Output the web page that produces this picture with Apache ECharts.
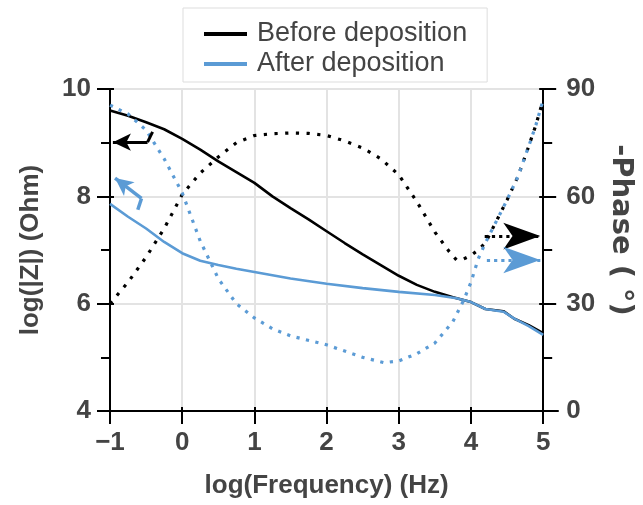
<!DOCTYPE html>
<html>
<head>
<meta charset="utf-8">
<script src="https://cdn.jsdelivr.net/npm/echarts@6/dist/echarts.min.js"></script>
<style>html,body{margin:0;padding:0;background:#fff}#c{width:643px;height:505px}</style>
</head>
<body>
<div id="c"></div>
<script>
// ---- data (log frequency in Hz, log|Z| in Ohm, -phase in degrees) ----
const xTicks = [-1, 0, 1, 2, 3, 4, 5];
const zTicks = [4, 6, 8, 10];
const phaseTicks = [0, 30, 60, 90];

const zBeforeX = [-1, -0.75, -0.5, -0.25, 0, 0.25, 0.5, 0.75, 1, 1.25, 1.5, 1.75, 2, 2.25, 2.5, 2.75, 3, 3.25, 3.5, 3.75, 4, 4.2, 4.45, 4.6, 4.8, 5];
const zBeforeY = [9.6, 9.5, 9.38, 9.25, 9.07, 8.87, 8.65, 8.45, 8.25, 8.0, 7.78, 7.57, 7.35, 7.13, 6.92, 6.72, 6.52, 6.35, 6.22, 6.12, 6.03, 5.9, 5.86, 5.72, 5.6, 5.45];

const zAfterX = [-1, -0.75, -0.5, -0.25, 0, 0.25, 0.5, 0.75, 1, 1.5, 2, 2.5, 3, 3.5, 3.8, 4, 4.2, 4.45, 4.6, 4.8, 5];
const zAfterY = [7.86, 7.62, 7.4, 7.15, 6.94, 6.8, 6.72, 6.65, 6.59, 6.47, 6.37, 6.29, 6.22, 6.16, 6.1, 6.03, 5.9, 5.85, 5.72, 5.58, 5.42];

const phBeforeX = [-1, -0.75, -0.5, -0.25, 0, 0.25, 0.5, 0.75, 1, 1.25, 1.5, 1.75, 2, 2.25, 2.5, 2.75, 3, 3.25, 3.5, 3.7, 3.8, 3.9, 4, 4.1, 4.2, 4.35, 4.5, 4.65, 4.8, 4.9, 5];
const phBeforeY = [30, 36, 43, 51, 60.5, 66.5, 71, 75, 77, 77.5, 77.7, 77.6, 77, 75.5, 73.5, 70.5, 66, 58.5, 50, 44.5, 42.2, 42.5, 43.5, 45, 47, 53, 59, 65.5, 74, 80, 87];

const phAfterX = [-1, -0.75, -0.5, -0.25, 0, 0.25, 0.5, 0.75, 1, 1.25, 1.5, 2, 2.5, 2.8, 3, 3.25, 3.5, 3.75, 3.9, 4, 4.1, 4.2, 4.35, 4.5, 4.65, 4.8, 4.9, 5];
const phAfterY = [85.5, 83, 78.5, 70.5, 61, 47.5, 37, 30, 26, 23, 21, 18.5, 15, 13.5, 14, 16, 19, 25, 31, 36, 42.5, 47, 53, 59, 65.5, 74, 80, 87];

const seriesNames = ['Before deposition', 'After deposition'];

// ---- styles ----
const BLACK = '#000000';
const BLUE = '#5B9BD5';
const TXT = '#444444';
const FONT = '"Liberation Sans", Arial, Helvetica, sans-serif';

const pair = (xs, ys) => xs.map((x, i) => [x, ys[i]]);

function seg(a, b, arrow, size) {
  return [
    { coord: a, symbol: 'none' },
    { coord: b, symbol: arrow ? 'arrow' : 'none', symbolSize: size || 10 }
  ];
}

const chart = echarts.init(document.getElementById('c'), null, { renderer: 'canvas' });

const labelStyle = { color: TXT, fontFamily: FONT, fontWeight: 'bold', fontSize: 26 };
const nameStyle = { color: TXT, fontFamily: FONT, fontWeight: 'bold', fontSize: 26 };

chart.setOption({
  animation: false,
  backgroundColor: '#fff',
  legend: {
    data: seriesNames,
    orient: 'vertical',
    left: 183, top: 8,
    padding: [12, 20, 4, 21],
    itemGap: 2,
    itemWidth: 43, itemHeight: 4,
    icon: 'rect',
    borderColor: '#dddddd', borderWidth: 1,
    textStyle: { color: TXT, fontFamily: FONT, fontSize: 27, lineHeight: 28, padding: [0, 0, 0, 5] }
  },
  grid: [
    { left: 110, right: 97, top: 89, bottom: 94 },
    { left: 98, right: 85, top: 89, bottom: 94 }
  ],
  xAxis: [
    {
      type: 'value', gridIndex: 0, min: xTicks[0], max: xTicks[xTicks.length - 1], interval: 1,
      name: 'log(Frequency) (Hz)', nameLocation: 'middle', nameGap: 62, nameTextStyle: nameStyle,
      axisLine: { show: false, onZero: false },
      axisTick: { show: true, inside: false, length: 13, lineStyle: { color: BLACK, width: 2 } },
      axisLabel: Object.assign({ margin: 19 }, labelStyle, {
        formatter: v => (v < 0 ? '\u2212' + Math.abs(v) : String(v))
      }),
      splitLine: { show: true, lineStyle: { color: '#e3e3e3', width: 2 } }
    },
    {
      type: 'value', gridIndex: 0, min: xTicks[0], max: xTicks[xTicks.length - 1], interval: 1,
      position: 'bottom',
      axisLine: { show: false, onZero: false },
      axisTick: { show: true, inside: true, length: 4, lineStyle: { color: BLACK, width: 2 } },
      axisLabel: { show: false }, splitLine: { show: false }
    },
    {
      type: 'value', gridIndex: 1, min: 0, max: 1, position: 'bottom',
      axisLine: { show: true, onZero: false, lineStyle: { color: BLACK, width: 2 } },
      axisTick: { show: false }, axisLabel: { show: false }, splitLine: { show: false }
    }
  ],
  yAxis: [
    {
      type: 'value', gridIndex: 0, min: zTicks[0], max: zTicks[zTicks.length - 1], interval: 2,
      position: 'left',
      name: 'log(|Z|) (Ohm)', nameLocation: 'middle', nameGap: 66, nameTextStyle: nameStyle,
      axisLine: { show: true, onZero: false, lineStyle: { color: BLACK, width: 2 } },
      axisTick: { show: true, length: 13, lineStyle: { color: BLACK, width: 2 } },
      minorTick: { show: true, splitNumber: 2, length: 9, lineStyle: { color: BLACK, width: 2 } },
      axisLabel: Object.assign({ margin: 19 }, labelStyle),
      splitLine: { show: true, lineStyle: { color: '#e3e3e3', width: 2 } }
    },
    {
      type: 'value', gridIndex: 0, min: phaseTicks[0], max: phaseTicks[phaseTicks.length - 1], interval: 30,
      position: 'right',
      name: '-Phase ( \u00b0)', nameLocation: 'middle', nameGap: 60, nameRotate: -90,
      nameTextStyle: { color: TXT, fontFamily: '"DejaVu Sans", sans-serif', fontWeight: 'bold', fontSize: 29, padding: [0, 40, 0, 0] },
      axisLine: { show: true, onZero: false, lineStyle: { color: BLACK, width: 2 } },
      axisTick: { show: true, length: 13, lineStyle: { color: BLACK, width: 2 } },
      minorTick: { show: true, splitNumber: 2, length: 9, lineStyle: { color: BLACK, width: 2 } },
      axisLabel: Object.assign({ margin: 23 }, labelStyle),
      splitLine: { show: false }
    },
    {
      type: 'value', gridIndex: 0, min: zTicks[0], max: zTicks[zTicks.length - 1], interval: 2, position: 'left',
      axisLine: { show: false, onZero: false },
      axisTick: { show: true, inside: true, length: 4, lineStyle: { color: BLACK, width: 2 } },
      axisLabel: { show: false }, splitLine: { show: false }
    },
    {
      type: 'value', gridIndex: 0, min: phaseTicks[0], max: phaseTicks[phaseTicks.length - 1], interval: 30, position: 'right',
      axisLine: { show: false, onZero: false },
      axisTick: { show: true, inside: true, length: 4, lineStyle: { color: BLACK, width: 2 } },
      axisLabel: { show: false }, splitLine: { show: false }
    },
    {
      type: 'value', gridIndex: 1, min: 0, max: 1,
      axisLine: { show: false }, axisTick: { show: false }, axisLabel: { show: false }, splitLine: { show: false }
    }
  ],
  series: [
    {
      name: seriesNames[0], type: 'line', xAxisIndex: 0, yAxisIndex: 0,
      data: pair(zBeforeX, zBeforeY), showSymbol: false, symbol: 'none', smooth: false,
      color: BLACK, lineStyle: { color: BLACK, width: 2.6 }, z: 3,
      markLine: {
        silent: true, animation: false, label: { show: false },
        lineStyle: { color: BLACK, width: 3, type: 'solid' },
        data: [
          seg([-0.41, 9.2], [-0.48, 9.01], false),
          seg([-0.48, 9.01], [-0.96, 9.01], true, [13, 18])
        ]
      }
    },
    {
      name: seriesNames[1], type: 'line', xAxisIndex: 0, yAxisIndex: 0,
      data: pair(zAfterX, zAfterY), showSymbol: false, symbol: 'none',
      color: BLUE, lineStyle: { color: BLUE, width: 2.6 }, z: 4,
      markLine: {
        silent: true, animation: false, label: { show: false },
        lineStyle: { color: BLUE, width: 3.5, type: 'solid' },
        data: [
          seg([-0.615, 7.75], [-0.564, 7.96], false),
          seg([-0.564, 7.96], [-0.93, 8.34], true, [13, 18])
        ]
      }
    },
    {
      name: 'Before deposition phase', type: 'line', xAxisIndex: 0, yAxisIndex: 1,
      data: pair(phBeforeX, phBeforeY), showSymbol: false, symbol: 'none',
      color: BLACK, lineStyle: { color: BLACK, width: 3.2, type: [3.2, 7.5] }, z: 3,
      markLine: {
        silent: true, animation: false, label: { show: false },
        lineStyle: { color: BLACK, width: 3.2, type: [3.2, 4] },
        data: [ seg([4.19, 48.9], [4.96, 48.9], true, [20, 37]) ]
      }
    },
    {
      name: 'After deposition phase', type: 'line', xAxisIndex: 0, yAxisIndex: 1,
      data: pair(phAfterX, phAfterY), showSymbol: false, symbol: 'none',
      color: BLUE, lineStyle: { color: BLUE, width: 3.2, type: [3.2, 6.5] }, z: 4,
      markLine: {
        silent: true, animation: false, label: { show: false },
        lineStyle: { color: BLUE, width: 3.2, type: [3.2, 4] },
        data: [ seg([4.22, 42.2], [4.96, 42.2], true, [20, 37]) ]
      }
    }
  ]
});
</script>
</body>
</html>
